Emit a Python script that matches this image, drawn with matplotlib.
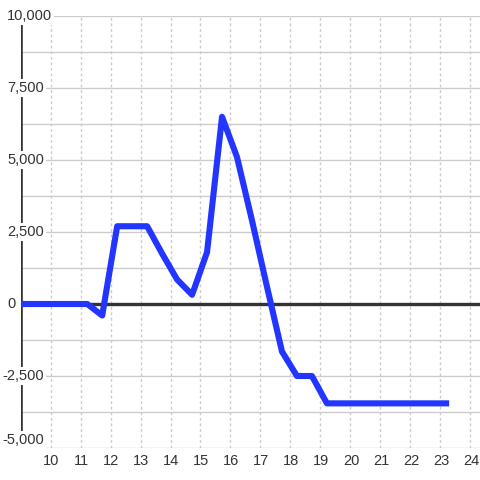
import matplotlib
matplotlib.use("Agg")
import matplotlib.pyplot as plt
import matplotlib.transforms as mtransforms

# values
x = [9.0, 11.22, 11.72, 12.22, 12.72, 13.22, 13.72, 14.22, 14.72, 15.22,
     15.72, 16.22, 16.72, 17.22, 17.72, 18.22, 18.72, 19.22, 23.3]
y = [0, 0, -400, 2700, 2700, 2700, 1750, 850, 320, 1800,
     6500, 5100, 2900, 600, -1650, -2500, -2500, -3450, -3450]

y_ticks = [10000, 7500, 5000, 2500, 0, -2500, -5000]
y_labels = ["10,000", "7,500", "5,000", "2,500", "0", "-2,500", "-5,000"]
x_ticks = list(range(10, 25))

W, H, DPI = 480, 480, 100
fig = plt.figure(figsize=(W / DPI, H / DPI), dpi=DPI, facecolor="white")
ax = fig.add_axes([20.7 / W, 32 / H, 1 - 20.7 / W, 432 / H])
ax.set_facecolor("white")
ax.set_xlim(9, 24.33)
ax.set_ylim(-5000, 10000)

for s in ax.spines.values():
    s.set_visible(False)
ax.set_xticks([])
ax.set_yticks([])

grid_c = "#cccccc"
for v in range(-5000, 10001, 1250):
    ax.axhline(v, color=grid_c, lw=1.0, zorder=1)
for v in x_ticks:
    ax.axvline(v, color=grid_c, lw=1.0, ls=(0, (2, 2)), zorder=1)

ax.axhline(0, color="#333333", lw=2.4, zorder=2)
ax.axvline(9, ymin=0.03, ymax=1.0, color="#333333", lw=2.6, zorder=2)

ax.plot(x, y, color="#2236ff", lw=4.4, zorder=3, solid_joinstyle="round",
        solid_capstyle="butt")

font = dict(family=["Liberation Sans", "DejaVu Sans"], size=10.5, color="#333333")
box = dict(facecolor="white", edgecolor="none", pad=1.5)

# y labels sit over the axis line, left-aligned near the figure edge
ytrans = mtransforms.blended_transform_factory(fig.transFigure, ax.transData)
for v, lab in zip(y_ticks, y_labels):
    xpos = (2.7 if lab.startswith("-") else 7.0) / W
    va = "bottom" if v == -5000 else "center"
    yy = v + 30 if v == -5000 else v
    ax.text(xpos, yy, lab, transform=ytrans, ha="left", va=va, bbox=box,
            zorder=5, clip_on=False, **font)

xtrans = mtransforms.blended_transform_factory(ax.transData, fig.transFigure)
for v in x_ticks:
    ax.text(v + 0.03, 1 - 461 / H, str(v), transform=xtrans, ha="center",
            va="center", clip_on=False, **font)

fig.savefig("out.png", dpi=DPI, facecolor="white")
